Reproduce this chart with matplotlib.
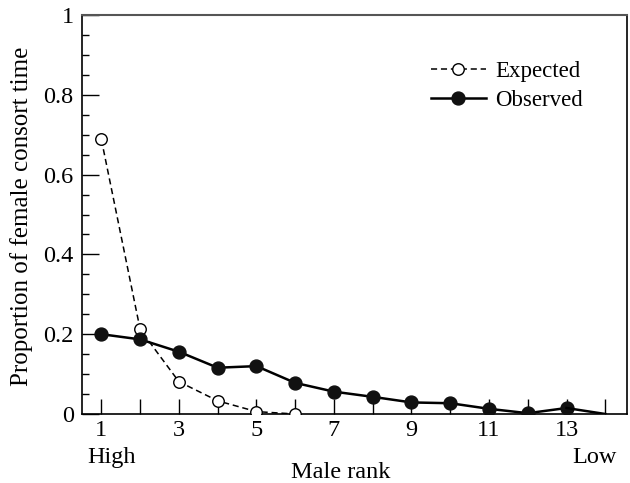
import matplotlib
matplotlib.use("Agg")
import matplotlib.pyplot as plt
import numpy as np

ranks_obs = [1, 2, 3, 4, 5, 6, 7, 8, 9, 10, 11, 12, 13, 14]
observed = [0.200, 0.187, 0.156, 0.116, 0.120, 0.078, 0.056, 0.043, 0.029, 0.027, 0.013, 0.002, 0.015, 0.0]
ranks_exp = [1, 2, 3, 4, 5, 6]
expected = [0.688, 0.212, 0.081, 0.033, 0.006, 0.0]
xtick_labels = ["1", "3", "5", "7", "9", "11", "13"]
ytick_labels = ["0", "0.2", "0.4", "0.6", "0.8", "1"]

W, H = 630, 483
FS = 17.5
plt.rcParams['font.family'] = ['Liberation Serif', 'DejaVu Serif']
fig = plt.figure(figsize=(W/100, H/100), dpi=100)
ax = fig.add_axes([82/W, 1-414/H, (627-82)/W, (414-15)/H])

ax.plot(ranks_exp, expected, linestyle=(0, (4, 2.5)), color='black', lw=1.1,
        marker='o', markersize=8.3, markerfacecolor='white', markeredgecolor='black',
        markeredgewidth=1.0, label='Expected', zorder=3)
ax.plot(ranks_obs[:-1], observed[:-1], linestyle='-', color='black', lw=1.8,
        marker='o', markersize=9.3, markerfacecolor='#111111', markeredgecolor='#111111',
        label='Observed', zorder=4)
ax.plot(ranks_obs[-2:], observed[-2:], linestyle='-', color='black', lw=1.8, zorder=4)

ax.set_xlim(0.5, 14.56)
ax.set_ylim(0, 1)
ax.set_xticks([1, 3, 5, 7, 9, 11, 13])
ax.set_xticklabels(xtick_labels)
ax.set_xticks(range(1, 15), minor=True)
ax.set_yticks([0, 0.2, 0.4, 0.6, 0.8, 1.0])
ax.set_yticklabels(ytick_labels)
ax.set_yticks(np.arange(0, 1.0001, 0.05), minor=True)
ax.tick_params(axis='x', which='both', direction='in', length=11, width=1, labelsize=FS, pad=4)
ax.tick_params(axis='y', which='major', direction='in', length=12, width=1, labelsize=FS, pad=6)
ax.tick_params(axis='y', which='minor', direction='in', length=5, width=1)
for s in ['left', 'bottom', 'right']:
    ax.spines[s].set_linewidth(1.2)
ax.spines['top'].set_color('#555555')
ax.spines['top'].set_linewidth(1.5)

fig.text(22/W, 1-216/H, 'Proportion of female consort time', rotation=90,
         ha='center', va='center', fontsize=18)
fig.text(341/W, 1-478/H, 'Male rank', ha='center', va='baseline', fontsize=FS)
fig.text(87/W, 1-463/H, 'High', ha='left', va='baseline', fontsize=FS)
fig.text(617/W, 1-463/H, 'Low', ha='right', va='baseline', fontsize=FS)

ax.legend(loc='upper left', bbox_to_anchor=(410/W, 1-40/H), bbox_transform=fig.transFigure,
          frameon=False, fontsize=16.5, handlelength=2.4, handletextpad=0.43, labelspacing=0.35)

fig.savefig('out.png', dpi=100)
